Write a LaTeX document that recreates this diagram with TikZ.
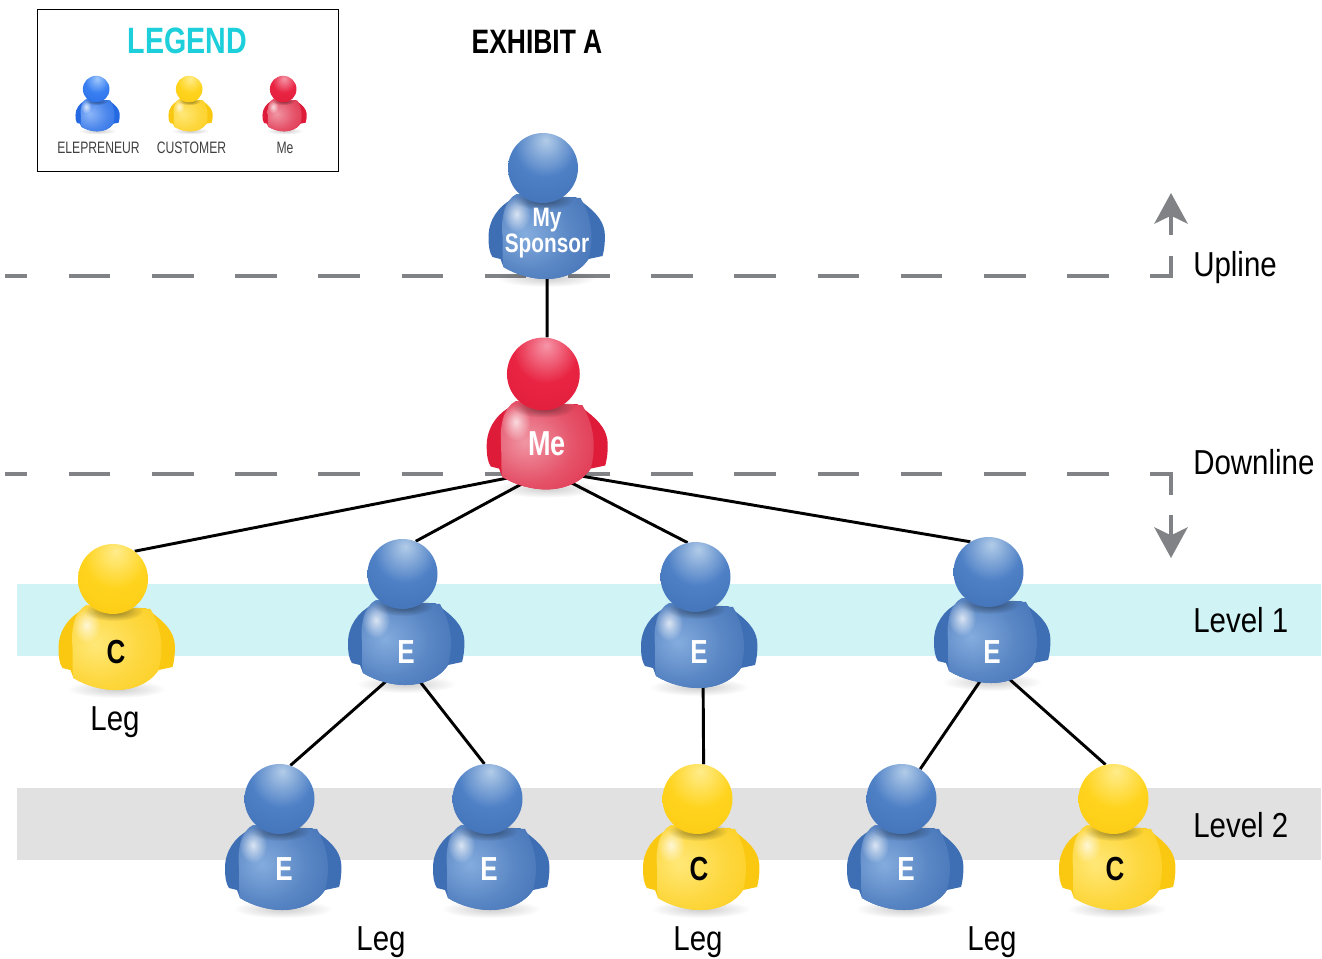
\documentclass[tikz,border=0pt]{standalone}
\usepackage{fontspec}
\setmainfont[FakeStretch=0.85,BoldFeatures={FakeStretch=0.78}]{Liberation Sans}
\newfontfamily\narrowfont[FakeStretch=0.735]{Liberation Sans}
\usetikzlibrary{arrows.meta,backgrounds,fadings}

\tikzfading[name=softspot, inner color=transparent!0, outer color=transparent!100]

\newcommand{\personfamily}[6]{%
    \definecolor{edge#1}{RGB}{#4}%
    \definecolor{ballhi#1}{RGB}{#2}%
    \definecolor{ballmid#1}{RGB}{#3}%
    \definecolor{bodyhi#1}{RGB}{#5}%
    \definecolor{bodyedge#1}{RGB}{#6}%
    \pgfdeclareradialshading{ball#1}{\pgfpoint{2bp}{20bp}}{color(0bp)=(ballhi#1); color(22bp)=(ballmid#1); color(50bp)=(edge#1); color(100bp)=(edge#1)}%
    \pgfdeclareradialshading{body#1}{\pgfpoint{-12bp}{2bp}}{color(0bp)=(bodyhi#1); color(22bp)=(bodyhi#1!40!bodyedge#1); color(45bp)=(bodyedge#1); color(100bp)=(bodyedge#1)}%
}
\personfamily{blue}{178,204,232}{78,128,198}{62,110,180}{132,172,222}{60,108,178}
\personfamily{lblue}{160,200,252}{58,128,242}{36,104,226}{140,182,248}{34,104,228}
\personfamily{gold}{255,236,140}{255,212,30}{250,200,16}{255,232,120}{252,204,24}
\personfamily{red}{246,150,168}{232,36,66}{222,28,58}{240,150,164}{222,40,68}

\definecolor{linegray}{RGB}{128,130,133}
\definecolor{legendcyan}{RGB}{28,207,218}
\definecolor{bandcyan}{RGB}{208,243,246}
\definecolor{bandgray}{RGB}{225,225,225}

\tikzset{
    pics/person/.style={code={
        \fill[black, path fading=softspot, fill opacity=0.2] (0,34) ellipse [x radius=50, y radius=9];
        \fill[edge#1] (-34,-45) .. controls (-48,-38) and (-58,-24) .. (-58,-7) .. controls (-58,2) and (-57,9) .. (-54,13) -- (-46,15) -- (-43,23)
            .. controls (-30,31) and (-14,35) .. (-1,35) .. controls (14,35) and (32,30) .. (42,15) -- (56,12)
            .. controls (58,5) and (59,-5) .. (58,-13) .. controls (56,-24) and (50,-32) .. (29,-47) -- cycle;
        \shade[shading=body#1] (-30,-50) .. controls (-42,-44) and (-46,-25) .. (-44,-8) .. controls (-44,8) and (-44,18) .. (-43,23)
            .. controls (-30,31) and (-14,35) .. (-1,35) .. controls (14,35) and (32,30) .. (42,15) .. controls (46,0) and (48,-22) .. (34,-46) -- cycle;
        \fill[white, path fading=softspot, fill opacity=0.75] (-30,-30) ellipse [x radius=14, y radius=18];
        \fill[black, path fading=softspot, fill opacity=0.45] (-3,-44) ellipse [x radius=30, y radius=10];
        \node[headball, shading=ball#1] (head) at (-3.5,-76) {};
    }},
    headball/.style={circle, shade, minimum size=52.5pt, inner sep=0pt, transform shape},
    link/.style={draw=black, line width=2.2pt},
    dashline/.style={draw=linegray, line width=2.6pt, dash pattern=on 31.2pt off 31.2pt, dash phase=14.6pt, miter limit=10},
    updown/.style={draw=linegray, line width=2.6pt, -{Stealth[length=23pt, width=25pt, inset=6pt]}},
    tagtext/.style={inner sep=0pt, minimum height=13.5pt, font=\bfseries\fontsize{25}{25}\selectfont},
    sidetext/.style={anchor=west, inner sep=0pt, font=\fontsize{26}{28}\selectfont},
    legtext/.style={inner sep=0pt, font=\fontsize{26}{28}\selectfont},
    smalltext/.style={inner sep=0pt, text=black!75, font=\narrowfont\fontsize{12.4}{14}\selectfont}
}

\begin{document}
\begin{tikzpicture}[x=0.75pt, y=-0.75pt]
    \useasboundingbox (0,0) rectangle (1322,958);

    % legend
    \draw[black, line width=0.6pt] (37,9) rectangle (338,171);
    \node[inner sep=0pt, text=legendcyan, font=\bfseries\fontsize{27.5}{29}\selectfont] (legend) at (187.5,41) {LEGEND};
    \node[inner sep=0pt, font=\bfseries\fontsize{25.4}{27}\selectfont] (exhibit) at (537,42) {EXHIBIT A};
    \foreach \n/\x/\c in {la/97.5/lblue, lb/190.5/gold, lc/284.5/red}
    {
        \pic (f\n) at (\x,118) [scale=0.38] {person=\c};
    }
    \node[smalltext] (la) at (98.5,148) {ELEPRENEUR};
    \node[smalltext] (lb) at (191.5,148) {CUSTOMER};
    \node[smalltext] (lc) at (285,148) {Me};

    % people
    \pic (fsponsor) at (546.5,244) {person=blue};
    \pic (fme) at (547,453) [scale=1.04] {person=red};
    \foreach \n/\x/\y/\c in {c1/116.5/655/gold, e1/406/650/blue, e2/699/653/blue, e3/992/648/blue,
        e4/283/875/blue, e5/491/875/blue, c2/701/875/gold, e6/905/875/blue, c3/1117/875/gold}
    {
        \pic (f\n) at (\x,\y) {person=\c};
    }

    % labels on the people
    \node[tagtext, text=white, font=\bfseries\fontsize{20}{18}\selectfont, align=center] (sponsor) at (547,233) {My\\Sponsor};
    \node[tagtext, text=white, font=\bfseries\fontsize{26}{26}\selectfont, minimum height=39pt] (me) at (547,444) {Me};
    \foreach \n/\x/\y/\t/\c in {c1/116/652/C/black, e1/406/652/E/white, e2/699/652/E/white, e3/992/652/E/white,
        e4/284/869/E/white, e5/489/869/E/white, c2/699/869/C/black, e6/906/869/E/white, c3/1115/869/C/black}
    {
        \node[tagtext, text=\c] (\n) at (\x,\y) {\t};
    }

    % side texts
    \node[sidetext] (upline) at (1193,268) {Upline};
    \node[sidetext] (downline) at (1193,462) {Downline};
    \node[sidetext] (level1) at (1193,620) {Level 1};
    \node[sidetext] (level2) at (1193,825) {Level 2};
    \node[legtext] (leg1) at (115,722) {Leg};
    \node[legtext] (leg2) at (381,942) {Leg};
    \node[legtext] (leg3) at (698,942) {Leg};
    \node[legtext] (leg4) at (992,942) {Leg};

    \coordinate (uptail) at (1171,235);
    \coordinate (uptip) at (1171,193);
    \coordinate (downtail) at (1171,515);
    \coordinate (downtip) at (1171,558);
    \draw[updown] (uptail) -- (uptip);
    \draw[updown] (downtail) -- (downtip);

    \begin{scope}[on background layer]
        \fill[bandcyan] (17,584) rectangle (1321,656);
        \fill[bandgray] (17,788) rectangle (1321,860);
        \draw[dashline] (5,276) -- (1171,276) -- (1171,256);
        \draw[dashline] (5,474) -- (1171,474) -- (1171,495);
        \draw[link] (sponsor.south) -- (fmehead.84);
        \draw[link] (me.south) -- (fc1head.52);
        \draw[link] (me.south) -- (fe1head.68);
        \draw[link] (me.south) -- (fe2head.103);
        \draw[link] (me.south) -- (fe3head.121);
        \draw[link] (e1.south) -- (fe4head.72);
        \draw[link] (e1.south) -- (fe5head.95);
        \draw[link] ([xshift=3pt]e2.south) -- (fc2head.80);
        \draw[link] (e3.south) -- (fe6head.58);
        \draw[link] (e3.south) -- (fc3head.103);
    \end{scope}
\end{tikzpicture}
\end{document}
